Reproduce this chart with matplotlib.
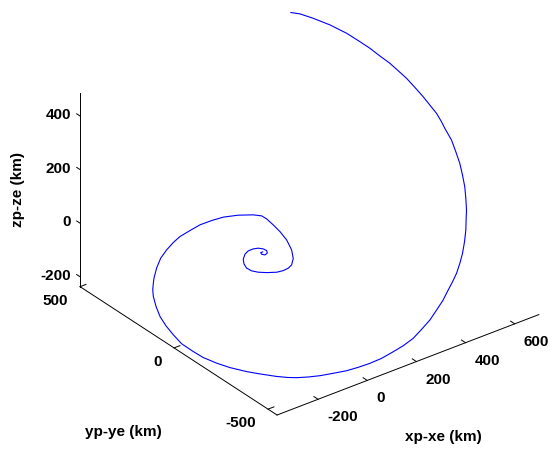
import matplotlib
matplotlib.use('Agg')
import matplotlib.pyplot as plt
import numpy as np
from mpl_toolkits.mplot3d import proj3d

# ---- data (relative position, km) ----
xp_xe = [493.1, 514.3, 540.7, 573.2, 602.1, 621.9, 636.4, 648.8, 662.0, 670.5, 678.9, 684.6,
         689.6, 692.3, 695.0, 693.1, 690.0, 686.7, 677.1, 666.8, 653.0, 638.1, 620.2, 601.1,
         582.1, 563.6, 539.2, 513.3, 488.4, 462.0, 436.5, 410.2, 379.2, 344.1, 308.7, 270.4,
         232.4, 193.0, 156.1, 114.0, 74.4, 36.7, 0.2, -39.5, -78.6, -111.5, -143.2, -165.6,
         -193.4, -232.7, -263.4, -300.0, -326.9, -352.0, -367.5, -384.1, -390.0, -393.2,
         -392.3, -384.8, -374.1, -363.7, -350.2, -338.9, -314.0, -286.2, -255.7, -225.4,
         -197.2, -160.2, -123.9, -85.6, -49.1, -6.4, 33.5, 53.7, 61.4, 68.0, 73.6, 76.3,
         71.5, 60.6, 44.8, 30.0, 12.6, -7.5, -34.4, -55.7, -70.6, -78.9, -78.3, -71.8, -58.3,
         -43.9, -27.2, -12.8, -1.0, 4.9, 1.8, -7.3, -14.6, -14.4, -7.9]
yp_ye = [503.1, 483.0, 448.4, 400.5, 349.5, 304.7, 270.4, 233.6, 197.6, 164.6, 130.9, 94.2,
         56.6, 24.5, -7.6, -36.6, -58.3, -98.3, -133.7, -168.4, -200.8, -232.4, -261.4,
         -290.0, -312.6, -335.4, -360.3, -383.5, -401.8, -418.8, -430.8, -441.9, -455.7,
         -466.7, -477.3, -483.3, -488.4, -486.7, -481.8, -475.2, -464.8, -451.9, -437.9,
         -418.6, -399.0, -380.0, -359.6, -342.7, -319.0, -281.6, -251.0, -210.0, -174.6,
         -136.1, -103.2, -63.2, -26.3, 8.5, 41.5, 72.4, 100.9, 117.7, 132.1, 143.2, 161.5,
         176.5, 184.6, 189.1, 190.4, 185.4, 179.8, 167.8, 153.7, 130.0, 102.3, 84.0, 67.6,
         41.1, 12.8, -19.3, -52.1, -75.0, -87.1, -88.3, -84.5, -75.8, -57.7, -40.9, -25.3,
         -9.6, 5.5, 17.9, 26.2, 27.7, 22.9, 15.1, 4.0, -6.4, -13.6, -13.2, -5.4, 0.3, -1.9]
zp_ze = [482.0, 478.9, 469.3, 454.7, 436.7, 418.8, 404.8, 388.5, 373.0, 357.4, 341.4, 322.5,
         302.9, 285.6, 268.2, 250.8, 237.1, 212.9, 188.7, 164.9, 140.8, 116.9, 93.1, 69.3,
         48.9, 28.5, 4.7, -18.8, -39.0, -59.2, -76.1, -92.8, -112.9, -132.8, -152.8, -171.3,
         -189.1, -203.6, -215.3, -228.0, -237.5, -245.0, -251.2, -255.7, -259.8, -261.8,
         -262.5, -261.6, -258.8, -252.7, -247.2, -238.1, -228.3, -216.1, -203.3, -186.9,
         -168.0, -149.3, -129.9, -109.3, -88.7, -75.1, -61.4, -50.7, -30.4, -10.9, 5.7, 20.2,
         32.0, 43.6, 54.7, 62.7, 69.0, 72.1, 71.9, 69.3, 62.9, 50.3, 36.2, 18.9, -1.8, -19.2,
         -32.4, -38.9, -43.5, -46.4, -46.6, -45.3, -42.2, -36.4, -27.5, -17.9, -7.8, -1.2,
         2.5, 3.7, 1.9, -1.7, -7.1, -10.4, -8.8, -5.5, -4.2]

xlim = (-367, 698)
ylim = (-548, 500)
zlim = (-237, 487)
xticks = [-200, 0, 200, 400, 600]
yticks = [-500, 0, 500]
zticks = [-200, 0, 200, 400]
xlabel = 'xp-xe (km)'
ylabel = 'yp-ye (km)'
zlabel = 'zp-ze (km)'

W, H = 548, 449
plt.rcParams['font.family'] = ['Liberation Sans', 'DejaVu Sans']
fig = plt.figure(figsize=(W / 100, H / 100), dpi=100)
ax = fig.add_axes([0, 0, 1, 1], projection='3d')
ax.set_proj_type('ortho')
ax.view_init(elev=30, azim=-127.5)
ax.set_box_aspect((330, 323.6, 224))
ax.set_xlim(xlim)
ax.set_ylim(ylim)
ax.set_zlim(zlim)
ax.set_axis_off()

x0, x1 = xlim
y0, y1 = ylim
z0, z1 = zlim

# ---- fit the projected box to the reference layout ----
fig.canvas.draw()


def to_px(x, y, z):
    X, Y, _ = proj3d.proj_transform(np.array([x], float), np.array([y], float),
                                    np.array([z], float), ax.get_proj())
    return ax.transData.transform(np.column_stack([X, Y]))[0]


corners = [(x0, y0, z0), (x1, y0, z0), (x0, y1, z0), (x0, y1, z1)]
targets = np.array([(277, 415), (539, 314), (80, 287), (80, 93)], float)
targets[:, 1] = H - targets[:, 1]
bb = ax.get_position().transformed(fig.transFigure)
c0 = np.array([(bb.x0 + bb.x1) / 2, (bb.y0 + bb.y1) / 2])
S0 = bb.width
P = np.array([to_px(*c) for c in corners])
V = P - c0
vm, tm = V.mean(0), targets.mean(0)
s = ((V - vm) * (targets - tm)).sum() / ((V - vm) ** 2).sum()
c1 = tm - s * vm
S1 = S0 * s
ax.set_position([(c1[0] - S1 / 2) / W, (c1[1] - S1 / 2) / H, S1 / W, S1 / H])
fig.canvas.draw()

# ---- curve ----
ax.plot(xp_xe, yp_ye, zp_ze, color='#0000ff', lw=0.8)

# ---- axis lines ----
lk = dict(color='black', lw=0.7)
ax.plot([x0, x1], [y0, y0], [z0, z0], **lk)
ax.plot([x0, x0], [y0, y1], [z0, z0], **lk)
ax.plot([x0, x0], [y1, y1], [z0, z1], **lk)

tx = 22   # tick length in y units for x ticks
ty = 24   # tick length in x units for y ticks
tz = 18   # tick length in y units for z ticks
fs = 11
tk = dict(fontsize=fs, fontweight='bold', color='black')


def label_at(x, y, z, txt, dx, dy, **kw):
    p = to_px(x, y, z)
    fig.text((p[0] + dx) / W, (p[1] + dy) / H, txt, **kw, **tk)


for v in xticks:
    ax.plot([v, v], [y0, y0 + tx], [z0, z0], **lk)
    label_at(v, y0, z0, str(v), 9, -18, ha='left', va='center')
for v in yticks:
    ax.plot([x0, x0 + ty], [v, v], [z0, z0], **lk)
    label_at(x0, v, z0, str(v), -12, -14, ha='right', va='center')
for v in zticks:
    ax.plot([x0, x0], [y1, y1 + tz], [v, v], **lk)
    label_at(x0, y1, v, str(v), -9, 1, ha='right', va='center')

xm = (x0 + x1) / 2
ym = (y0 + y1) / 2
zm = (z0 + z1) / 2
label_at(xm, y0, z0, xlabel, 35, -72, ha='center', va='center')
label_at(x0, ym, z0, ylabel, -55, -81, ha='center', va='center')
label_at(x0, y1, zm, zlabel, -62, 0, ha='center', va='center', rotation=90)

fig.savefig('out.png', dpi=100)
